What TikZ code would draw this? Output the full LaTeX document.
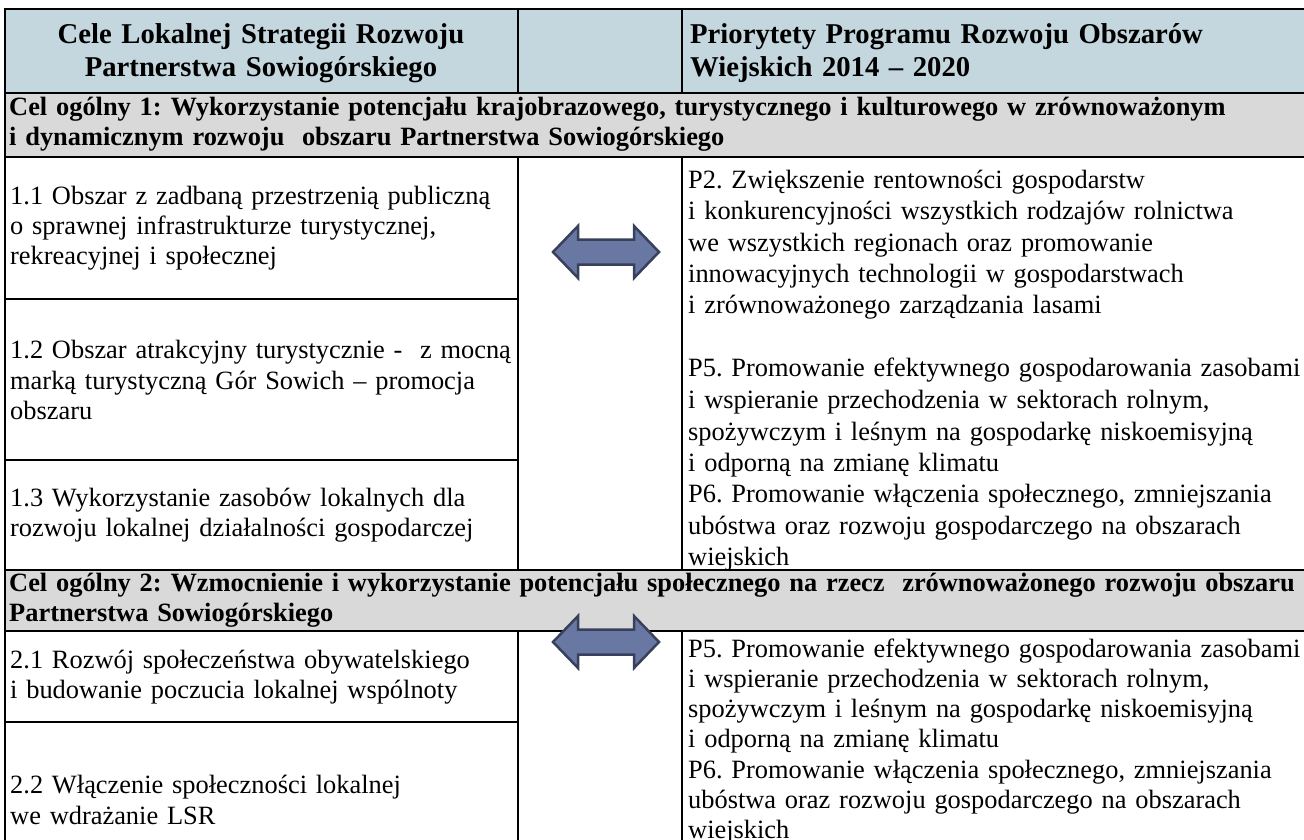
\documentclass[tikz,border=0pt]{standalone}
\usepackage{fontspec}
\setmainfont{Liberation Serif}
\frenchspacing
\definecolor{hdrblue}{RGB}{196,214,222}
\definecolor{celgrey}{RGB}{217,217,217}
\definecolor{arrfill}{RGB}{104,120,163}
\definecolor{arrline}{RGB}{56,64,92}
\begin{document}
\begin{tikzpicture}[x=1pt,y=-1pt,
  rule/.style={line width=2.6pt, line cap=rect},
  bodytext/.style={font=\fontsize{26.4}{30.3}\selectfont, inner sep=0pt, align=left},
  lefttext/.style={bodytext, text width=540pt, anchor=west},
  righttext/.style={bodytext, text width=700pt, anchor=base west},
  hdrtext/.style={font=\bfseries\fontsize{28.7}{33}\selectfont, inner sep=0pt},
  celtext/.style={font=\bfseries\fontsize{26.4}{30}\selectfont, inner sep=0pt, align=left, text width=1400pt, anchor=base west},
  dblarrow/.pic={\path[fill=arrfill, draw=arrline, line width=2.5pt, line join=miter]
     (-53,0) -- (-28,-26) -- (-28,-12.5) -- (28,-12.5) -- (28,-26) -- (53,0)
     -- (28,26) -- (28,12.5) -- (-28,12.5) -- (-28,26) -- cycle;}
]
\useasboundingbox (0,0) rectangle (1304,840);
% fills
\fill[hdrblue] (5,9) rectangle (1310,93);
\fill[celgrey] (5,93) rectangle (1310,157);
\fill[celgrey] (5,570) rectangle (1310,631);
% horizontal rules
\draw[rule] (5,9) -- (1310,9);
\draw[rule] (5,93) -- (1310,93);
\draw[rule] (5,157) -- (1310,157);
\draw[rule] (5,570) -- (1310,570);
\draw[rule] (5,631) -- (1310,631);
\draw[rule] (5,299) -- (518,299);
\draw[rule] (5,460) -- (518,460);
\draw[rule] (5,722) -- (518,722);
% vertical rules
\draw[rule] (5,9) -- (5,850);
\draw[rule] (518,9) -- (518,93);
\draw[rule] (682,9) -- (682,93);
\draw[rule] (518,157) -- (518,570);
\draw[rule] (682,157) -- (682,570);
\draw[rule] (518,631) -- (518,850);
\draw[rule] (682,631) -- (682,850);
% header
\node[hdrtext, text width=500pt, align=center, anchor=base] (hleft) at (261,44)
  {Cele Lokalnej Strategii Rozwoju\\Partnerstwa Sowiogórskiego};
\node[hdrtext, text width=640pt, align=left, anchor=base west] (hright) at (690,44)
  {Priorytety Programu Rozwoju Obszarów\\Wiejskich 2014 – 2020};
% general goals
\node[celtext] (cel1) at (9,116)
  {Cel ogólny 1: Wykorzystanie potencjału krajobrazowego, turystycznego i kulturowego w zrównoważonym\\i dynamicznym rozwoju~ obszaru Partnerstwa Sowiogórskiego};
\node[celtext] (cel2) at (9,591)
  {Cel ogólny 2: Wzmocnienie i wykorzystanie potencjału społecznego na rzecz~ zrównoważonego rozwoju obszaru\\Partnerstwa Sowiogórskiego};
% left cells
\node[lefttext] (c11) at (10,228)
  {1.1 Obszar z zadbaną przestrzenią publiczną\\o sprawnej infrastrukturze turystycznej,\\rekreacyjnej i społecznej};
\node[lefttext] (c12) at (10,380)
  {1.2 Obszar atrakcyjny turystycznie -~ z mocną\\marką turystyczną Gór Sowich – promocja\\obszaru};
\node[lefttext] (c13) at (10,515)
  {1.3 Wykorzystanie zasobów lokalnych dla\\rozwoju lokalnej działalności gospodarczej};
\node[lefttext] (c21) at (10,677)
  {2.1 Rozwój społeczeństwa obywatelskiego\\i budowanie poczucia lokalnej wspólnoty};
\node[lefttext] (c22) at (10,800)
  {2.2 Włączenie społeczności lokalnej\\we wdrażanie LSR};
% right cells
\node[righttext, font=\fontsize{26.4}{31.5}\selectfont] (p1) at (688,188)
  {P2. Zwiększenie rentowności gospodarstw\\i konkurencyjności wszystkich rodzajów rolnictwa\\we wszystkich regionach oraz promowanie\\innowacyjnych technologii w gospodarstwach\\i zrównoważonego zarządzania lasami\\[31.5pt]P5. Promowanie efektywnego gospodarowania zasobami\\i wspieranie przechodzenia w sektorach rolnym,\\spożywczym i leśnym na gospodarkę niskoemisyjną\\i odporną na zmianę klimatu\\P6. Promowanie włączenia społecznego, zmniejszania\\ubóstwa oraz rozwoju gospodarczego na obszarach\\wiejskich};
\node[righttext] (p2) at (688,657)
  {P5. Promowanie efektywnego gospodarowania zasobami\\i wspieranie przechodzenia w sektorach rolnym,\\spożywczym i leśnym na gospodarkę niskoemisyjną\\i odporną na zmianę klimatu\\P6. Promowanie włączenia społecznego, zmniejszania\\ubóstwa oraz rozwoju gospodarczego na obszarach\\wiejskich};
% arrows
\pic (arr1) at (606,252) {dblarrow};
\pic (arr2) at (606,642) {dblarrow};
\end{tikzpicture}
\end{document}
